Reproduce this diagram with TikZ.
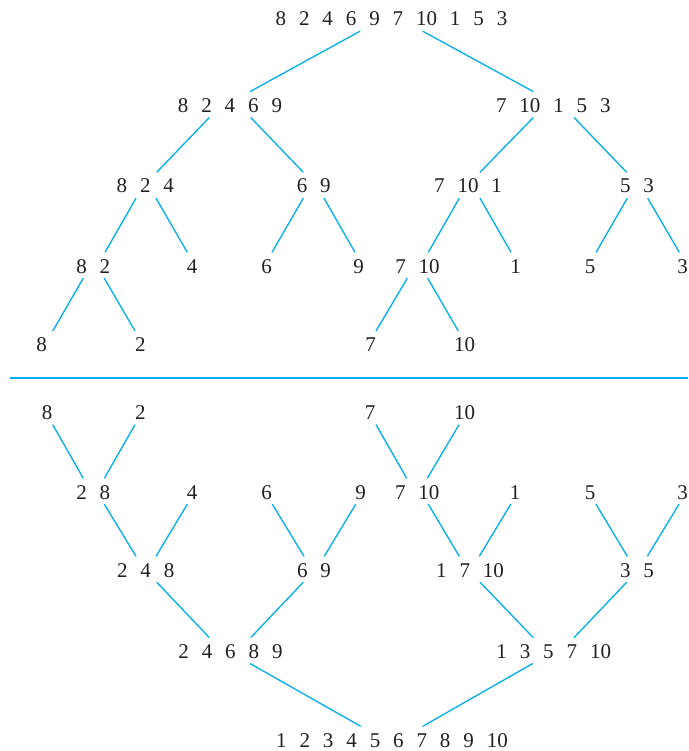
\documentclass[tikz,border=0pt]{standalone}
\usepackage{fontspec}
\setmainfont{Liberation Serif}
\definecolor{ln}{RGB}{0,174,239}
\definecolor{tx}{RGB}{35,31,32}
\newcommand\gp{\hspace{12.9pt}}
\begin{document}
\begin{tikzpicture}[x=1pt,y=-1pt,
  num/.style={anchor=base, inner xsep=0pt, inner ysep=5pt, text height=15.5pt, text depth=0pt, font=\fontsize{21}{25}\selectfont, text=tx},
  link/.style={draw=ln, line width=1.3pt},
  rule/.style={draw=ln, line width=2.2pt}]
\useasboundingbox (0,0) rectangle (688,751);
% ---- top half (splitting) ----
\node[num] (r0) at (391.5,26) {8\gp 2\gp 4\gp 6\gp 9\gp 7\gp 10\gp 1\gp 5\gp 3};
\node[num] (r1a) at (230,112.3) {8\gp 2\gp 4\gp 6\gp 9};
\node[num] (r1b) at (553.3,112.3) {7\gp 10\gp 1\gp 5\gp 3};
\node[num] (r2a) at (145.3,193) {8\gp 2\gp 4};
\node[num] (r2b) at (313.7,193) {6\gp 9};
\node[num] (r2c) at (468,193) {7\gp 10\gp 1};
\node[num] (r2d) at (637,193) {5\gp 3};
\node[num] (r3a) at (93.3,273) {8\gp 2};
\node[num] (r3b) at (192,273) {4};
\node[num] (r3c) at (266.5,273) {6};
\node[num] (r3d) at (358.7,273) {9};
\node[num] (r3e) at (417.5,273) {7\gp 10};
\node[num] (r3f) at (515.5,273) {1};
\node[num] (r3g) at (590,273) {5};
\node[num] (r3h) at (682.5,273) {3};
\node[num] (r4a) at (41.7,351.7) {8};
\node[num] (r4b) at (140.3,351.7) {2};
\node[num] (r4c) at (370.5,351.7) {7};
\node[num] (r4d) at (464.5,351.7) {10};
% ---- separator ----
\coordinate (sepL) at (10,378);
\coordinate (sepR) at (688,378);
\draw[rule] (sepL) -- (sepR);
% ---- bottom half (merging) ----
\node[num] (b5a) at (47,419.5) {8};
\node[num] (b5b) at (140.3,419.5) {2};
\node[num] (b5c) at (370,419.5) {7};
\node[num] (b5d) at (464.5,419.5) {10};
\node[num] (b6a) at (93.3,499) {2\gp 8};
\node[num] (b6b) at (192,499) {4};
\node[num] (b6c) at (266.7,499) {6};
\node[num] (b6d) at (360.5,499) {9};
\node[num] (b6e) at (417.2,499) {7\gp 10};
\node[num] (b6f) at (515,499) {1};
\node[num] (b6g) at (590,499) {5};
\node[num] (b6h) at (682.5,499) {3};
\node[num] (b7a) at (145.7,577) {2\gp 4\gp 8};
\node[num] (b7b) at (314,577) {6\gp 9};
\node[num] (b7c) at (470,577) {1\gp 7\gp 10};
\node[num] (b7d) at (637,577) {3\gp 5};
\node[num] (b8a) at (230.5,658.3) {2\gp 4\gp 6\gp 8\gp 9};
\node[num] (b8b) at (553.7,658.3) {1\gp 3\gp 5\gp 7\gp 10};
\node[num] (b9) at (392,747) {1\gp 2\gp 3\gp 4\gp 5\gp 6\gp 7\gp 8\gp 9\gp 10};
% ---- top connectors ----
\draw[link] (r0.south -| 360,0) -- (r1a.north -| 250,0);
\draw[link] (r0.south -| 422.7,0) -- (r1b.north -| 533.3,0);
\draw[link] (r1a.south -| 209.3,0) -- (r2a.north -| 156.7,0);
\draw[link] (r1a.south -| 250.7,0) -- (r2b.north -| 303.3,0);
\draw[link] (r1b.south -| 533.3,0) -- (r2c.north -| 480,0);
\draw[link] (r1b.south -| 574,0) -- (r2d.north -| 626.7,0);
\draw[link] (r2a.south -| 136,0) -- (r3a.north -| 105,0);
\draw[link] (r2a.south -| 156,0) -- (r3b.north -| 187.3,0);
\draw[link] (r2b.south -| 303.3,0) -- (r3c.north -| 272,0);
\draw[link] (r2b.south -| 324,0) -- (r3d.north -| 355,0);
\draw[link] (r2c.south -| 459.3,0) -- (r3e.north -| 428.3,0);
\draw[link] (r2c.south -| 480,0) -- (r3f.north -| 511,0);
\draw[link] (r2d.south -| 627.3,0) -- (r3g.north -| 596,0);
\draw[link] (r2d.south -| 647.7,0) -- (r3h.north -| 679.3,0);
\draw[link] (r3a.south -| 83.3,0) -- (r4a.north -| 52.7,0);
\draw[link] (r3a.south -| 104.3,0) -- (r4b.north -| 135,0);
\draw[link] (r3e.south -| 407.3,0) -- (r4c.north -| 376,0);
\draw[link] (r3e.south -| 427.7,0) -- (r4d.north -| 458.3,0);
% ---- bottom connectors ----
\draw[link] (b5a.south -| 52.7,0) -- (b6a.north -| 83.3,0);
\draw[link] (b5b.south -| 135,0) -- (b6a.north -| 104.3,0);
\draw[link] (b5c.south -| 376,0) -- (b6e.north -| 406.7,0);
\draw[link] (b5d.south -| 459,0) -- (b6e.north -| 427.3,0);
\draw[link] (b6a.south -| 104.3,0) -- (b7a.north -| 136,0);
\draw[link] (b6b.south -| 187.3,0) -- (b7a.north -| 156,0);
\draw[link] (b6c.south -| 272.3,0) -- (b7b.north -| 304,0);
\draw[link] (b6d.south -| 355.7,0) -- (b7b.north -| 324.3,0);
\draw[link] (b6e.south -| 428.3,0) -- (b7c.north -| 459.3,0);
\draw[link] (b6f.south -| 510.7,0) -- (b7c.north -| 479.3,0);
\draw[link] (b6g.south -| 596,0) -- (b7d.north -| 627.3,0);
\draw[link] (b6h.south -| 679,0) -- (b7d.north -| 647.3,0);
\draw[link] (b7a.south -| 156.7,0) -- (b8a.north -| 209.3,0);
\draw[link] (b7b.south -| 303.3,0) -- (b8a.north -| 250.7,0);
\draw[link] (b7c.south -| 480,0) -- (b8b.north -| 533.3,0);
\draw[link] (b7d.south -| 626.7,0) -- (b8b.north -| 574,0);
\draw[link] (b8a.south -| 250,0) -- (b9.north -| 360.7,0);
\draw[link] (b8b.south -| 532.7,0) -- (b9.north -| 422.7,0);
\end{tikzpicture}
\end{document}
